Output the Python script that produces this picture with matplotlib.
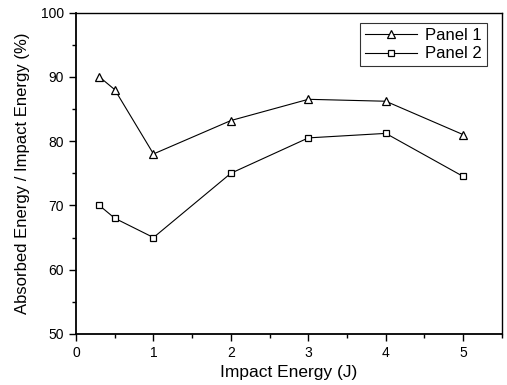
import matplotlib
matplotlib.use("Agg")
import matplotlib.pyplot as plt
from matplotlib.ticker import MultipleLocator

plt.rcParams['font.family'] = ['Liberation Sans', 'DejaVu Sans']

impact_energy = [0.3, 0.5, 1, 2, 3, 4, 5]
panel1 = [90, 88, 78, 83.2, 86.5, 86.2, 81]
panel2 = [70, 68, 65, 75, 80.5, 81.2, 74.5]

fig = plt.figure(figsize=(5.07, 3.85), dpi=100)
ax = fig.add_axes([0.150, 0.1325, 0.840, 0.835])

ax.plot(impact_energy, panel1, color='black', lw=0.8, marker='^', ms=6,
        mfc='white', mec='black', mew=0.9, label='Panel 1')
ax.plot(impact_energy, panel2, color='black', lw=0.8, marker='s', ms=5,
        mfc='white', mec='black', mew=0.9, label='Panel 2')

ax.set_xlim(0, 5.5)
ax.set_ylim(50, 100)
ax.xaxis.set_major_locator(MultipleLocator(1))
ax.xaxis.set_minor_locator(MultipleLocator(0.5))
ax.yaxis.set_major_locator(MultipleLocator(10))
ax.yaxis.set_minor_locator(MultipleLocator(5))
ax.tick_params(which='both', direction='out', top=False, right=False,
               labelsize=10, width=1)
ax.tick_params(which='major', length=5)
ax.tick_params(which='minor', length=3)
for s in ax.spines.values():
    s.set_linewidth(1)
ax.spines['left'].set_linewidth(1.3)
ax.spines['bottom'].set_linewidth(1.3)

ax.set_xlabel('Impact Energy (J)', fontsize=12.5, labelpad=4)
ax.set_ylabel('Absorbed Energy / Impact Energy (%)', fontsize=12, labelpad=8)

leg = ax.legend(loc='upper right', bbox_to_anchor=(0.965, 0.967), fontsize=12,
                frameon=True, fancybox=False, edgecolor='black',
                borderaxespad=0, handlelength=3.1, borderpad=0.3,
                labelspacing=0.2, handletextpad=0.5)
leg.get_frame().set_linewidth(0.8)

fig.savefig('out.png', dpi=100)
